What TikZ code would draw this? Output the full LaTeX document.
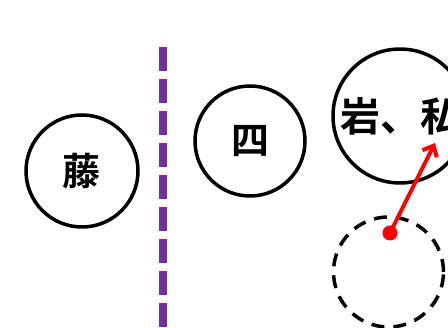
\documentclass[tikz,border=0pt]{standalone}
\usepackage{fontspec}
\newfontfamily\cjk{Noto Sans CJK SC}[BoldFont={Noto Sans CJK SC Bold}]
\usetikzlibrary{arrows.meta}
\tikzset{
  circ/.style={circle, draw=black, line width=3.5pt, minimum size=#1, inner sep=0pt,
    font=\cjk\bfseries\fontsize{38}{40}\selectfont},
  ghost/.style={circle, draw=black, line width=3.5pt, minimum size=#1, inner sep=0pt,
    dash pattern=on 13pt off 9pt},
  divider/.style={draw={rgb,255:red,112;green,48;blue,160}, line width=8pt, dash pattern=on 24pt off 8pt},
  move/.style={draw=red, line width=4pt, -{Straight Barb[length=9pt,width=16pt,line width=4pt]}}
}
\begin{document}
\begin{tikzpicture}[x=1pt,y=-1pt]
\useasboundingbox (0,0) rectangle (448,328);
\clip (0,0) rectangle (448,328);
\coordinate (lt) at (163,47);
\coordinate (lb) at (163,335);
\draw[divider] (lt) -- (lb);
\node[circ=112pt] (teng) at (82,171) {藤};
\node[circ=110pt] (si) at (250,141) {四};
\node[circ=134pt, font=\cjk\bfseries\fontsize{40}{42}\selectfont] (yan) at (400,116) {岩、私};
\node[ghost=110pt] (old) at (388.5,272) {};
\node[circle, fill=red, minimum size=15pt, inner sep=0pt] (dot) at (390,233) {};
\coordinate (tip) at (435,143);
\draw[move] (dot.center) -- (tip);
\end{tikzpicture}
\end{document}
